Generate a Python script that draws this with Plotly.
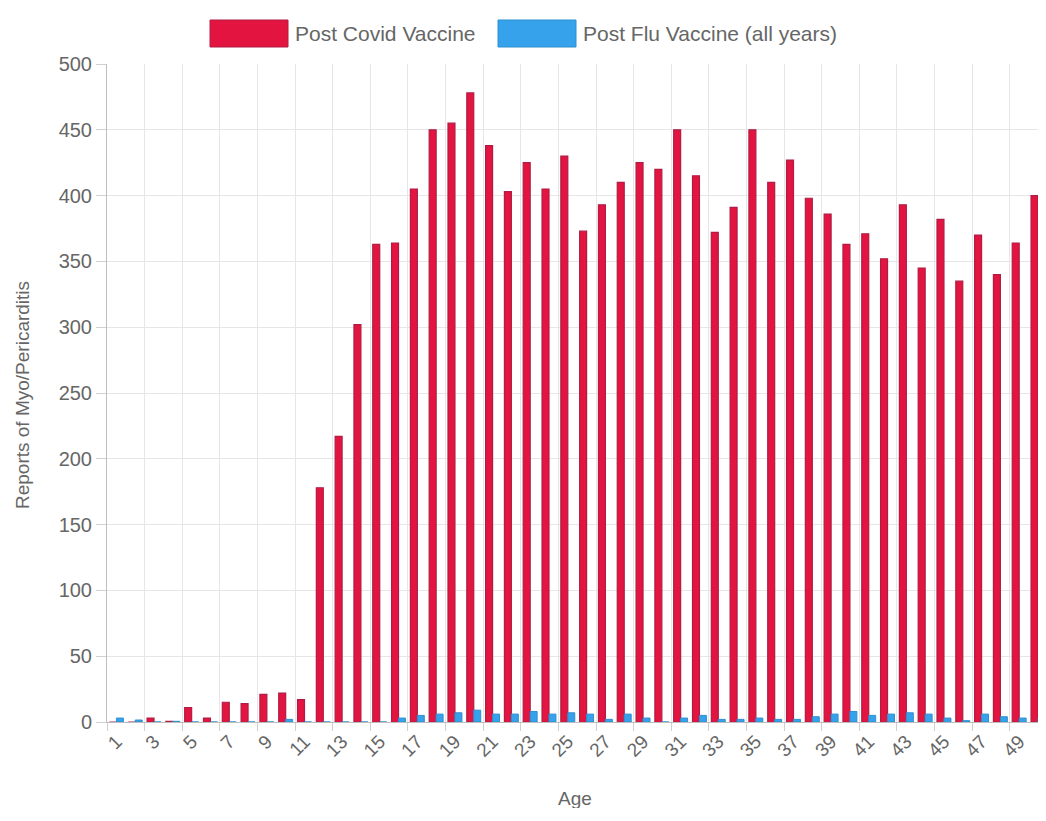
import plotly.graph_objects as go

ages = [str(a) for a in range(1, 51)]

covid = [0, 0, 3, 0.5, 11, 3, 15, 14, 21, 22,
         17, 178, 217, 302, 363, 364, 405, 450, 455, 478,
         438, 403, 425, 405, 430, 373, 393, 410, 425, 420,
         450, 415, 372, 391, 450, 410, 427, 398, 386, 363,
         371, 352, 393, 345, 382, 335, 370, 340, 364, 400]

flu = [3, 1.5, 0, 0.5, 0, 0, 0, 0, 0, 2,
       0, 0, 0, 0, 0, 3, 5, 6, 7, 9,
       6, 6, 8, 6, 7, 6, 2, 6, 3, 0,
       3, 5, 2, 2, 3, 2, 2, 4, 6, 8,
       5, 6, 7, 6, 3, 1, 6, 4, 3, 3]

RED = "#e3143f"
RED_EDGE = "#b01c45"
BLUE = "#36a2eb"
BLUE_EDGE = "#2f8fd0"
FONT = "Liberation Sans, Arial"
GREY = "#666666"

# the page body has an 8px margin and the visible width ends ~8px short,
# so keep the figure inside that area
OFF = 8
W, H = 1046 - 2 * OFF, 800
L, T = 107 - OFF, 64 - OFF
B = H - (722 - OFF)
PW, PH = W - L, H - T - B


def px_x(x):
    return (x - OFF - L) / PW


def px_y(y):
    return (H - B - (y - OFF)) / PH


fig = go.Figure()
fig.add_trace(go.Bar(x=ages, y=covid, name="Post Covid Vaccine",
                     marker=dict(color=RED, line=dict(color=RED_EDGE, width=1.2))))
fig.add_trace(go.Bar(x=ages, y=flu, name="Post Flu Vaccine (all years)",
                     marker=dict(color=BLUE, line=dict(color=BLUE_EDGE, width=1))))

# chart.js-style legend: wide colour boxes with the label beside them
legend_items = [("Post Covid Vaccine", RED, RED_EDGE, 210),
                ("Post Flu Vaccine (all years)", BLUE, BLUE_EDGE, 498)]
for label, fill, edge, x0 in legend_items:
    fig.add_shape(type="rect", xref="paper", yref="paper",
                  x0=px_x(x0), x1=px_x(x0 + 78), y0=px_y(47), y1=px_y(20),
                  fillcolor=fill, line=dict(color=edge, width=1))
    fig.add_annotation(text=label, xref="paper", yref="paper",
                       x=px_x(x0 + 83), y=px_y(33),
                       xanchor="left", yanchor="middle", showarrow=False,
                       font=dict(family=FONT, size=21, color=GREY))

fig.add_annotation(text="Age", xref="paper", yref="paper",
                   x=px_x(575), y=px_y(798), xanchor="center", yanchor="middle",
                   showarrow=False, font=dict(family=FONT, size=19, color=GREY))
fig.add_annotation(text="Reports of Myo/Pericarditis", xref="paper", yref="paper",
                   x=px_x(22), y=px_y(395), xanchor="center", yanchor="middle",
                   textangle=-90, showarrow=False,
                   font=dict(family=FONT, size=19, color=GREY))

fig.update_layout(
    width=W, height=H,
    margin=dict(l=L, r=0, t=T, b=B, autoexpand=False),
    paper_bgcolor="white", plot_bgcolor="white",
    barmode="group", bargap=0.26, bargroupgap=0,
    showlegend=False,
    font=dict(family=FONT, color=GREY, size=17),
)
fig.update_xaxes(
    type="category", range=[-0.5, 49.0], automargin=False,
    tickmode="linear", tick0=0, dtick=2, tickson="boundaries",
    tickangle=-45, ticks="outside", ticklen=8, tickcolor="#d0d0d0",
    showgrid=True, gridcolor="#e6e6e6", gridwidth=1,
    showline=True, linecolor="#bdbdbd", linewidth=1,
    tickfont=dict(size=19, color=GREY),
)
fig.update_yaxes(
    range=[0, 500], dtick=50, automargin=False,
    ticks="outside", ticklen=10, tickcolor="#d0d0d0",
    showgrid=True, gridcolor="#e6e6e6", gridwidth=1,
    showline=True, linecolor="#bdbdbd", linewidth=1, zeroline=False,
    tickfont=dict(size=20, color=GREY),
)

fig.write_html("out.html")
